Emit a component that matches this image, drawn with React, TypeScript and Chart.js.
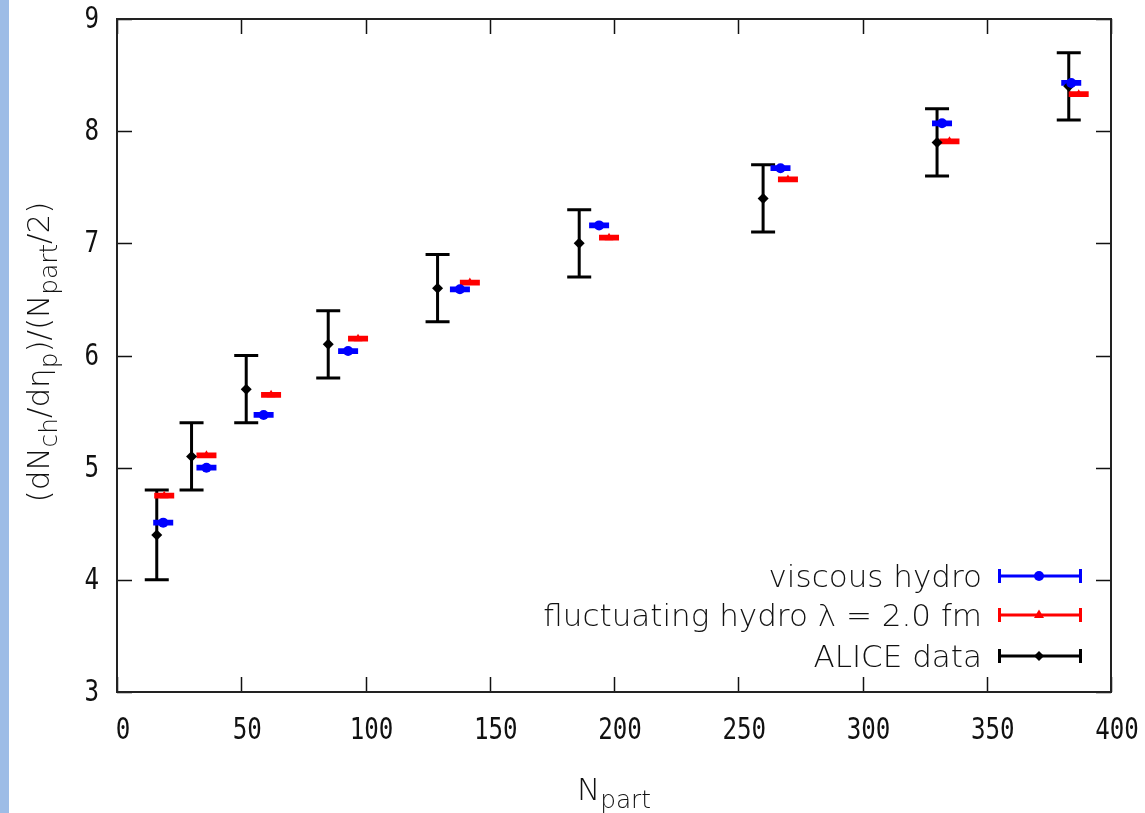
import React, { useEffect, useRef } from "react";
import { Chart, registerables } from "chart.js";

Chart.register(...registerables);

// ---------- data ----------
const aliceNpart = [16, 30, 52, 85, 129, 186, 260, 330, 383];
const aliceValues = [4.4, 5.1, 5.7, 6.1, 6.6, 7.0, 7.4, 7.9, 8.4];
const aliceErrors = [0.4, 0.3, 0.3, 0.3, 0.3, 0.3, 0.3, 0.3, 0.3];

const viscousNpart = [18.6, 36, 59, 93, 138, 194, 267, 332, 384];
const viscousValues = [4.51, 5.0, 5.47, 6.04, 6.59, 7.16, 7.67, 8.07, 8.43];

const fluctNpart = [19, 36, 62, 97, 142, 198, 270, 335, 387];
const fluctValues = [4.75, 5.11, 5.65, 6.15, 6.65, 7.05, 7.57, 7.91, 8.33];

const modelErrors = [0.01, 0.01, 0.01, 0.01, 0.01, 0.01, 0.01, 0.01, 0.01];

const xTickValues = [0, 50, 100, 150, 200, 250, 300, 350, 400];
const yTickValues = [3, 4, 5, 6, 7, 8, 9];

const legendLabels = ["viscous hydro", "fluctuating hydro \u03bb = 2.0 fm", "ALICE data"];

// ---------- styles ----------
const W = 1145;
const H = 813;
const BLUE = "#0000ff";
const RED = "#ff0000";
const BLACK = "#000000";
const STRIP = "#9dbce6";
const TEXT_FONT = '"DejaVu Sans"';
const TICK_FONT = '"DejaVu Sans Mono"';
const TEXT_SIZE = 31;

const toPoints = (xs: number[], ys: number[]) => xs.map((x, i) => ({ x, y: ys[i] }));

function drawMarker(ctx: CanvasRenderingContext2D, style: string, x: number, y: number, r: number, color: string) {
  ctx.save();
  ctx.fillStyle = color;
  ctx.beginPath();
  if (style === "circle") {
    ctx.arc(x, y, r, 0, Math.PI * 2);
  } else if (style === "triangle") {
    ctx.moveTo(x, y - r * 1.1);
    ctx.lineTo(x + r, y + r * 0.6);
    ctx.lineTo(x - r, y + r * 0.6);
    ctx.closePath();
  } else {
    ctx.moveTo(x, y - r);
    ctx.lineTo(x + r, y);
    ctx.lineTo(x, y + r);
    ctx.lineTo(x - r, y);
    ctx.closePath();
  }
  ctx.fill();
  ctx.restore();
}

function drawErrorBars(
  ctx: CanvasRenderingContext2D,
  xs: any,
  ys: any,
  px: number[],
  vals: number[],
  errs: number[],
  color: string,
  capHalf: number,
  width: number
) {
  ctx.save();
  ctx.strokeStyle = color;
  ctx.lineWidth = width;
  ctx.lineCap = "butt";
  for (let i = 0; i < px.length; i++) {
    const x = xs.getPixelForValue(px[i]);
    const yTop = ys.getPixelForValue(vals[i] + errs[i]);
    const yBot = ys.getPixelForValue(vals[i] - errs[i]);
    ctx.beginPath();
    ctx.moveTo(x, yTop);
    ctx.lineTo(x, yBot);
    ctx.moveTo(x - capHalf, yTop);
    ctx.lineTo(x + capHalf, yTop);
    ctx.moveTo(x - capHalf, yBot);
    ctx.lineTo(x + capHalf, yBot);
    ctx.stroke();
  }
  ctx.restore();
}

// draws pieces of [text, isSub] starting at x along the baseline
function drawRich(ctx: CanvasRenderingContext2D, parts: [string, boolean][], size: number, x: number, y: number) {
  const subSize = size * 0.8;
  let cx = x;
  for (const [t, sub] of parts) {
    ctx.font = `200 ${sub ? subSize : size}px ${TEXT_FONT}`;
    ctx.fillText(t, cx, sub ? y + size * 0.25 : y);
    cx += ctx.measureText(t).width;
  }
}
function measureRich(ctx: CanvasRenderingContext2D, parts: [string, boolean][], size: number) {
  let w = 0;
  for (const [t, sub] of parts) {
    ctx.font = `200 ${sub ? size * 0.8 : size}px ${TEXT_FONT}`;
    w += ctx.measureText(t).width;
  }
  return w;
}

const gnuplotPlugin = {
  id: "gnuplotLook",
  beforeDraw(chart: any) {
    const { ctx, width, height } = chart;
    ctx.save();
    ctx.fillStyle = "#ffffff";
    ctx.fillRect(0, 0, width, height);
    ctx.fillStyle = STRIP;
    ctx.fillRect(0, 0, 9, height);
    ctx.restore();
  },
  beforeDatasetsDraw(chart: any) {
    const { ctx, chartArea: a, scales } = chart;
    const xs = scales.x;
    const ys = scales.y;
    ctx.save();
    // ticks (inward, mirrored)
    ctx.strokeStyle = "#111";
    ctx.lineWidth = 1.5;
    const TL = 15;
    ctx.beginPath();
    xTickValues.forEach((v) => {
      const p = Math.round(xs.getPixelForValue(v)) + 0.5;
      ctx.moveTo(p, a.bottom);
      ctx.lineTo(p, a.bottom - TL);
      ctx.moveTo(p, a.top);
      ctx.lineTo(p, a.top + TL);
    });
    yTickValues.forEach((v) => {
      const p = Math.round(ys.getPixelForValue(v)) + 0.5;
      ctx.moveTo(a.left, p);
      ctx.lineTo(a.left + TL, p);
      ctx.moveTo(a.right, p);
      ctx.lineTo(a.right - TL, p);
    });
    ctx.stroke();
    // frame
    ctx.lineWidth = 2;
    ctx.strokeStyle = "#222";
    ctx.strokeRect(a.left, a.top, a.right - a.left, a.bottom - a.top);

    // tick labels
    ctx.fillStyle = "#111";
    ctx.font = `31px ${TICK_FONT}`;
    ctx.textBaseline = "middle";
    const SX = 0.78;
    xTickValues.forEach((v) => {
      const p = xs.getPixelForValue(v) + 6;
      const t = String(v);
      ctx.save();
      ctx.translate(p, 731);
      ctx.scale(SX, 1);
      ctx.textAlign = "center";
      ctx.fillText(t, 0, 0);
      ctx.restore();
    });
    yTickValues.forEach((v) => {
      const p = ys.getPixelForValue(v);
      const t = String(v);
      ctx.save();
      ctx.translate(99, p + 1);
      ctx.scale(SX, 1);
      ctx.textAlign = "right";
      ctx.fillText(t, 0, 0);
      ctx.restore();
    });

    // error bars (drawn before the markers)
    drawErrorBars(ctx, xs, ys, aliceNpart, aliceValues, aliceErrors, BLACK, 12, 3);
    drawErrorBars(ctx, xs, ys, viscousNpart, viscousValues, modelErrors, BLUE, 10, 3.5);
    drawErrorBars(ctx, xs, ys, fluctNpart, fluctValues, modelErrors, RED, 10, 3.5);
    ctx.restore();
  },
  afterDraw(chart: any) {
    const { ctx, chartArea: a } = chart;
    ctx.save();
    ctx.fillStyle = "#111";
    ctx.textBaseline = "alphabetic";
    ctx.textAlign = "left";
    const size = TEXT_SIZE;

    // x title
    const xParts: [string, boolean][] = [["N", false], ["part", true]];
    const xw = measureRich(ctx, xParts, size);
    drawRich(ctx, xParts, size, (a.left + a.right) / 2 - xw / 2, 800);

    // y title
    const yParts: [string, boolean][] = [
      ["(dN", false],
      ["ch", true],
      ["/d\u03b7", false],
      ["p", true],
      [")/(N", false],
      ["part", true],
      ["/2)", false],
    ];
    const yw = measureRich(ctx, yParts, size);
    ctx.save();
    ctx.translate(49, 352);
    ctx.rotate(-Math.PI / 2);
    drawRich(ctx, yParts, size, -yw / 2, 0);
    ctx.restore();

    // legend
    const rows = [
      { label: legendLabels[0], color: BLUE, marker: "circle", y: 576 },
      { label: legendLabels[1], color: RED, marker: "triangle", y: 615 },
      { label: legendLabels[2], color: BLACK, marker: "diamond", y: 656 },
    ];
    rows.forEach((r) => {
      ctx.font = `200 ${size}px ${TEXT_FONT}`;
      ctx.textAlign = "right";
      ctx.fillStyle = "#111";
      ctx.fillText(r.label, 982, r.y + 11);
      ctx.strokeStyle = r.color;
      ctx.lineWidth = 3;
      ctx.beginPath();
      ctx.moveTo(998, r.y);
      ctx.lineTo(1081, r.y);
      ctx.moveTo(999.5, r.y - 7);
      ctx.lineTo(999.5, r.y + 7);
      ctx.moveTo(1080.5, r.y - 7);
      ctx.lineTo(1080.5, r.y + 7);
      ctx.stroke();
      drawMarker(ctx, r.marker, 1039, r.y, 5, r.color);
    });
    ctx.restore();
  },
};

export default function App() {
  const ref = useRef<HTMLCanvasElement | null>(null);

  useEffect(() => {
    document.body.style.margin = "0";
    const canvas = ref.current;
    if (!canvas) return;
    const chart = new Chart(canvas, {
      type: "scatter",
      data: {
        datasets: [
          {
            label: legendLabels[0],
            data: toPoints(viscousNpart, viscousValues),
            backgroundColor: BLUE,
            borderColor: BLUE,
            pointStyle: "circle",
            pointRadius: 5,
            borderWidth: 0,
          },
          {
            label: legendLabels[1],
            data: toPoints(fluctNpart, fluctValues),
            backgroundColor: RED,
            borderColor: RED,
            pointStyle: "triangle",
            pointRadius: 5,
            borderWidth: 0,
          },
          {
            label: legendLabels[2],
            data: toPoints(aliceNpart, aliceValues),
            backgroundColor: BLACK,
            borderColor: BLACK,
            pointStyle: "rectRot",
            pointRadius: 5.5,
            borderWidth: 0,
          },
        ],
      },
      options: {
        responsive: false,
        animation: false,
        devicePixelRatio: 1,
        layout: { padding: { top: 19, right: 34, left: 0, bottom: 0 } },
        plugins: {
          legend: { display: false },
          tooltip: { enabled: false },
          title: { display: false },
        },
        scales: {
          x: {
            type: "linear",
            min: 0,
            max: 400,
            grid: { display: false },
            border: { display: false },
            ticks: { display: false },
            afterBuildTicks: (s: any) => {
              s.ticks = xTickValues.map((v) => ({ value: v }));
            },
            afterFit: (s: any) => {
              s.height = 121;
            },
          },
          y: {
            type: "linear",
            min: 3,
            max: 9,
            grid: { display: false },
            border: { display: false },
            ticks: { display: false },
            afterBuildTicks: (s: any) => {
              s.ticks = yTickValues.map((v) => ({ value: v }));
            },
            afterFit: (s: any) => {
              s.width = 117;
            },
          },
        },
      },
      plugins: [gnuplotPlugin],
    });
    return () => chart.destroy();
  }, []);

  return (
    <div style={{ width: W, height: H, position: "relative", background: "#fff" }}>
      <canvas ref={ref} width={W} height={H} style={{ display: "block", width: W, height: H }} />
    </div>
  );
}
